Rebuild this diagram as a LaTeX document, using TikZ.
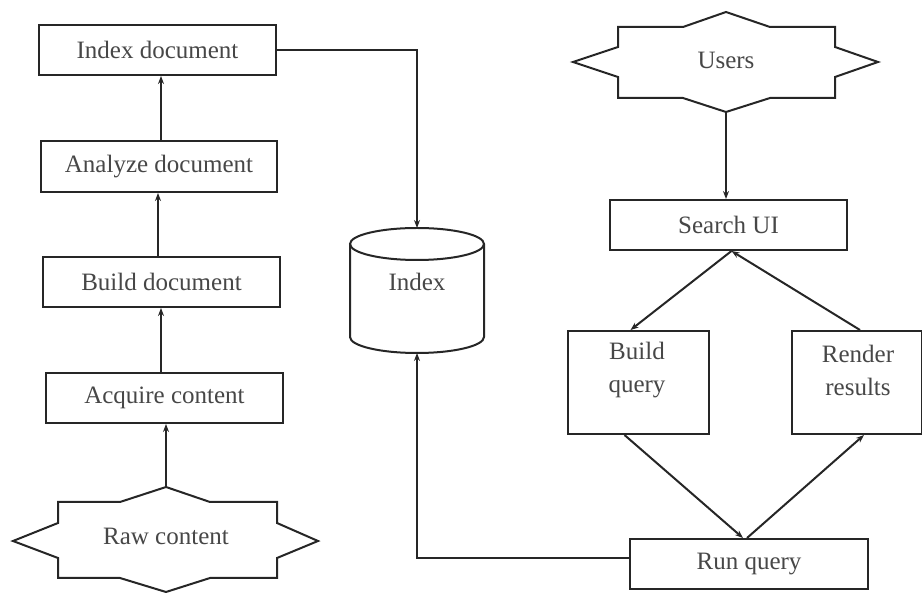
\documentclass[tikz,border=0pt]{standalone}
\usepackage{fontspec}
\newfontfamily\diagfont{Liberation Serif}
\usetikzlibrary{arrows.meta}
\begin{document}
\begin{tikzpicture}[x=1pt,y=-1pt,
  every node/.style={font=\diagfont\fontsize{25}{33}\selectfont, text=black!72},
  line/.style={draw=black!85, line width=2pt},
  arr/.style={line, -{Stealth[length=8pt,width=6pt]}},
  procbox/.style={line, fill=white, rectangle, inner sep=0pt, anchor=north west}]
\useasboundingbox (0,0) rectangle (922,593);

% left column boxes
\node[procbox, minimum width=237pt, minimum height=50pt] (indexdoc) at (38,24) {Index document};
\node[procbox, minimum width=236pt, minimum height=51pt] (analyze) at (40,140) {Analyze document};
\node[procbox, minimum width=237pt, minimum height=50pt] (builddoc) at (42,256) {Build document};
\node[procbox, minimum width=237pt, minimum height=50pt] (acquire) at (45,372) {Acquire content};

% raw content star
\draw[line, fill=white] (58,502) -- (120,502) -- (166,487) -- (210,502) -- (277,502) -- (277,523) -- (318,541)
  -- (277,558) -- (277,578) -- (210,578) -- (166,592) -- (120,578) -- (58,578) -- (58,558) -- (13,541)
  -- (58,523) -- cycle;
\node (raw) at (166,536) {Raw content};
\coordinate (rawtop) at (166,487);

% users star
\draw[line, fill=white] (618,27) -- (683,27) -- (726,12) -- (770,27) -- (835,27) -- (835,47) -- (878,62)
  -- (835,77) -- (835,98) -- (770,98) -- (726,112) -- (683,98) -- (618,98) -- (618,77) -- (573,62)
  -- (618,47) -- cycle;
\node (users) at (726,60) {Users};
\coordinate (usersbot) at (726,112);

% cylinder
\draw[line, fill=white] (350,244) -- (350,337) arc[start angle=180, end angle=360, x radius=67pt, y radius=16pt] -- (484,244);
\draw[line] (417,244) ellipse [x radius=67pt, y radius=16pt];
\node (index) at (417,282) {Index};
\coordinate (cyltop) at (417,228);
\coordinate (cylbot) at (417,353);

% right column boxes
\node[procbox, minimum width=237pt, minimum height=50pt] (searchui) at (609,199) {Search UI};
\node[procbox, minimum width=141pt, minimum height=103pt] (bq) at (567,330) {};
\node[align=center] (bqt) at (637,370) {Build\\query};
\node[procbox, minimum width=130pt, minimum height=103pt] (rr) at (791,330) {};
\node[align=center] (rrt) at (858,370) {Render\\results};
\node[procbox, minimum width=238pt, minimum height=50pt] (runq) at (629,538) {Run query};

% connectors left
\draw[arr] (rawtop) -- (rawtop |- acquire.south);
\draw[arr] ([xshift=-3.5pt]acquire.north) -- ([xshift=-3.5pt]acquire.north |- builddoc.south);
\draw[arr] ([xshift=-3.5pt]builddoc.north) -- ([xshift=-3.5pt]builddoc.north |- analyze.south);
\draw[arr] ([xshift=2pt]analyze.north) -- ([xshift=2pt]analyze.north |- indexdoc.south);
\draw[arr] (indexdoc.east) -| (cyltop);
\draw[arr] ([yshift=6pt]runq.west) -| (cylbot);

% connectors right
\draw[arr] (usersbot) -- (usersbot |- searchui.north);
\draw[arr] ([xshift=3pt]searchui.south) -- ([xshift=-8pt]bq.north);
\draw[arr] ([xshift=3pt]rr.north) -- ([xshift=3pt]searchui.south);
\draw[arr] ([xshift=-14pt]bq.south) -- ([xshift=-6pt]runq.north);
\draw[arr] ([xshift=-2pt]runq.north) -- ([xshift=7pt]rr.south);
\end{tikzpicture}
\end{document}
